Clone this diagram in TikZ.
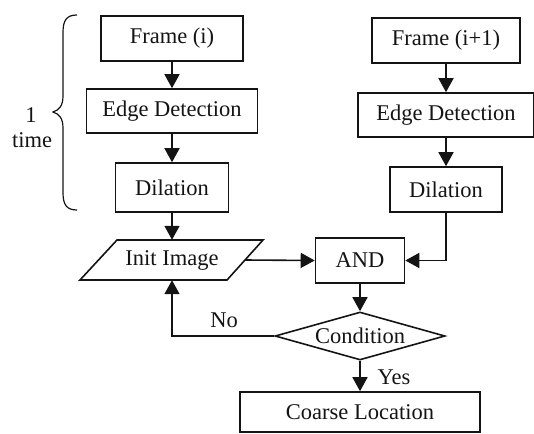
\documentclass[tikz,border=0pt]{standalone}
\usepackage{fontspec}
\setmainfont{Liberation Serif}
\usetikzlibrary{arrows.meta,shapes.geometric}
\definecolor{ink}{gray}{0.08}
\begin{document}
\begin{tikzpicture}[x=1pt,y=-1pt,
  font=\fontsize{22.5}{26}\selectfont, color=ink,
  box/.style={draw=ink, line width=1.6pt, inner sep=0pt, minimum height=45pt},
  ln/.style={draw=ink, line width=1.6pt},
  arr/.style={ln, -{Triangle[length=14pt,width=15pt]}},
  lbl/.style={inner sep=0pt, text=ink}]
\useasboundingbox (0,0) rectangle (534,433);
% left column
\node[box, minimum width=142pt] (f1) at (172,38.5) {Frame (i)};
\node[box, minimum width=171pt, minimum height=44pt] (e1) at (172,111) {Edge Detection};
\node[box, minimum width=113pt, minimum height=49pt] (d1) at (172,187.5) {Dilation};
% right column
\node[box, minimum width=148pt] (f2) at (446,40.5) {Frame (i+1)};
\node[box, minimum width=176pt, minimum height=44pt] (e2) at (446,115) {Edge Detection};
\node[box, minimum width=112pt, minimum height=45pt] (d2) at (446,189.5) {Dilation};
% init image (parallelogram)
\node[lbl, minimum width=146pt, minimum height=40pt] (init) at (172,260) {Init Image};
\draw[ln, line join=miter] (80,280) -- (117,240) -- (263,240) -- (227,280) -- cycle;
% AND
\node[box, minimum width=89pt] (and) at (360,260.5) {AND};
% condition
\node[draw=ink, line width=1.6pt, diamond, aspect=3.54, inner sep=0pt,
      minimum width=170pt, minimum height=48pt] (cond) at (360,336) {Condition};
% coarse location
\node[box, minimum width=240pt, minimum height=40pt] (coarse) at (360,412) {Coarse Location};
% connectors
\draw[arr] (f1) -- (e1);
\draw[arr] (e1) -- (d1);
\draw[arr] (d1) -- (init.north);
\draw[arr] (f2) -- (e2);
\draw[arr] (e2) -- (d2);
\draw[arr] (init.east) -- (and.west);
\draw[arr] (d2.south) |- (and.east);
\draw[arr] (and) -- (cond.north);
\draw[arr] (cond.west) -| (init.south);
\draw[arr] (cond.south) -- (coarse.north);
% labels
\node[lbl] (no) at (224,320) {No};
\node[lbl] (yes) at (394,377) {Yes};
% brace
\draw[ink, line width=1.2pt] (77,15) .. controls (67,15) and (63,20) .. (63,32)
  -- (63,96) .. controls (63,106) and (59,110) .. (53,112)
  .. controls (59,114) and (63,118) .. (63,128)
  -- (63,193) .. controls (63,205) and (67,210) .. (77,210);
\node[lbl] (one) at (31,115) {1};
\node[lbl] (time) at (32,140) {time};
\end{tikzpicture}
\end{document}
